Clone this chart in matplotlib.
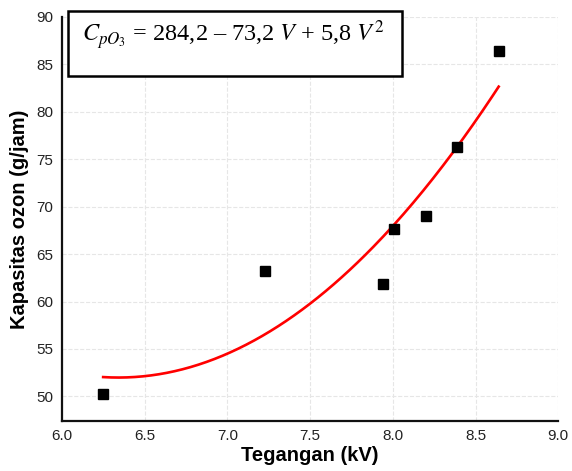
import numpy as np
import matplotlib
matplotlib.use("Agg")
import matplotlib.pyplot as plt
from matplotlib.patches import Rectangle

plt.rcParams["font.family"] = ["Liberation Sans", "DejaVu Sans"]
plt.rcParams["mathtext.fontset"] = "stix"

# measured points
tegangan = [6.25, 7.23, 7.94, 8.01, 8.20, 8.39, 8.64]
kapasitas = [50.3, 63.2, 61.8, 67.6, 69.0, 76.3, 86.4]

# quadratic fit of the points
coef = np.polyfit(tegangan, kapasitas, 2)
v = np.linspace(min(tegangan), max(tegangan), 200)
fit = np.polyval(coef, v)

fig = plt.figure(figsize=(5.72, 4.71), dpi=100)
ax = fig.add_axes([0.108, 0.106, 0.868, 0.858])

ax.plot(v, fit, color="#ff0000", lw=1.9, zorder=2)
ax.plot(tegangan, kapasitas, "s", color="black", ms=7, zorder=3)

ax.set_xlim(6.0, 9.0)
ax.set_ylim(47.4, 90)
ax.set_xticks(np.arange(6.0, 9.01, 0.5))
ax.set_yticks(np.arange(50, 91, 5))
ax.set_xticklabels([f"{t:.1f}" for t in np.arange(6.0, 9.01, 0.5)])
ax.grid(True, color="#e6e6e6", ls="--", lw=0.8)
ax.set_axisbelow(True)
ax.tick_params(length=0, labelsize=11, colors="#222222", pad=6)

for s in ["top", "right"]:
    ax.spines[s].set_visible(False)
for s in ["left", "bottom"]:
    ax.spines[s].set_linewidth(1.6)
    ax.spines[s].set_color("#111111")

ax.set_xlabel("Tegangan (kV)", fontsize=14.5, fontweight="bold", labelpad=2)
ax.set_ylabel("Kapasitas ozon (g/jam)", fontsize=14.5, fontweight="bold", labelpad=5)

ax.add_patch(Rectangle((0.012, 0.854), 0.673, 0.161, transform=ax.transAxes,
                       fill=True, facecolor="white", edgecolor="black",
                       lw=1.8, clip_on=False, zorder=4))
ax.text(0.04, 0.955,
        r"$C_{pO_3}$ = 284,2 – 73,2 $V$ + 5,8 $V^{2}$",
        transform=ax.transAxes, fontsize=17.5, va="center", ha="left",
        family=["Liberation Serif", "DejaVu Serif"], zorder=5)

fig.savefig("out.png", dpi=100)
